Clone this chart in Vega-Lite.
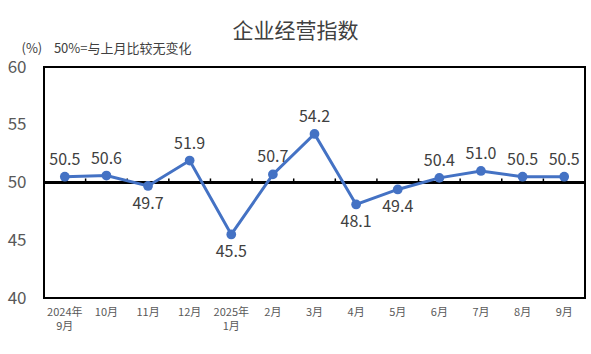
{
  "$schema": "https://vega.github.io/schema/vega-lite/v6.json",
  "width": 541,
  "height": 231,
  "autosize": {"type": "none"},
  "padding": {"left": 44, "top": 67, "right": 6, "bottom": 56},
  "background": "white",
  "config": {"view": {"stroke": "black", "strokeWidth": 2}, "font": "Noto Sans CJK SC"},
  "title": {"text": "企业经营指数", "fontSize": 21, "fontWeight": "normal", "color": "#404040", "anchor": "middle", "dx": -19, "offset": 0, "font": "Noto Sans CJK SC"},
  "data": {"values": [
    {"m": "2024年|9月", "v": 50.5},
    {"m": "10月", "v": 50.6},
    {"m": "11月", "v": 49.7},
    {"m": "12月", "v": 51.9},
    {"m": "2025年|1月", "v": 45.5},
    {"m": "2月", "v": 50.7},
    {"m": "3月", "v": 54.2},
    {"m": "4月", "v": 48.1},
    {"m": "5月", "v": 49.4},
    {"m": "6月", "v": 50.4},
    {"m": "7月", "v": 51.0},
    {"m": "8月", "v": 50.5},
    {"m": "9月", "v": 50.5}
  ]},
  "resolve": {"axis": {"x": "independent", "y": "independent"}},
  "layer": [
    {
      "mark": {"type": "rule", "color": "black", "strokeWidth": 2},
      "encoding": {
        "y": {"datum": 50, "type": "quantitative", "scale": {"domain": [40, 60]},
          "axis": {"values": [40, 45, 50, 55, 60], "labelFontSize": 17, "labelColor": "#595959", "ticks": false, "domain": false, "grid": false, "labelPadding": 18,
            "title": "(%)\u00a0\u00a0\u00a0\u00a050%=与上月比较无变化", "titleAngle": 0, "titleAlign": "left", "titleBaseline": "middle", "titleX": -23, "titleY": -19, "titleFontSize": 13, "titleFontWeight": "normal", "titleColor": "#404040"}}
      }
    },
    {
      "mark": {"type": "rule", "color": "black", "strokeWidth": 1.5},
      "encoding": {
        "x": {"field": "m", "type": "ordinal", "sort": null, "bandPosition": 0, "axis": null},
        "y": {"datum": 50, "type": "quantitative", "axis": null},
        "y2": {"datum": 50.35}
      }
    },
    {
      "mark": {"type": "line", "color": "#4472C4", "strokeWidth": 3},
      "encoding": {
        "x": {"field": "m", "type": "ordinal", "sort": null, "bandPosition": 0.5,
          "scale": {"type": "band", "paddingInner": 0, "paddingOuter": 0},
          "axis": {"orient": "bottom", "labelExpr": "split(datum.value, '|')", "labelFontSize": 11, "labelColor": "#595959", "ticks": false, "domain": false, "labelPadding": 8, "title": null, "labelAngle": 0, "labelLineHeight": 14}},
        "y": {"field": "v", "type": "quantitative", "axis": null}
      }
    },
    {
      "mark": {"type": "point", "filled": true, "size": 95, "color": "#4472C4", "opacity": 1},
      "encoding": {
        "x": {"field": "m", "type": "ordinal", "sort": null, "bandPosition": 0.5, "axis": null},
        "y": {"field": "v", "type": "quantitative", "axis": null}
      }
    },
    {
      "transform": [{"filter": "datum.v >= 50"}],
      "mark": {"type": "text", "fontSize": 16, "color": "#404040", "dy": -17, "baseline": "middle"},
      "encoding": {
        "x": {"field": "m", "type": "ordinal", "sort": null, "bandPosition": 0.5, "axis": null},
        "y": {"field": "v", "type": "quantitative", "axis": null},
        "text": {"field": "v", "type": "quantitative", "format": ".1f"}
      }
    },
    {
      "transform": [{"filter": "datum.v < 50"}],
      "mark": {"type": "text", "fontSize": 16, "color": "#404040", "dy": 18, "baseline": "middle"},
      "encoding": {
        "x": {"field": "m", "type": "ordinal", "sort": null, "bandPosition": 0.5, "axis": null},
        "y": {"field": "v", "type": "quantitative", "axis": null},
        "text": {"field": "v", "type": "quantitative", "format": ".1f"}
      }
    }
  ]
}
